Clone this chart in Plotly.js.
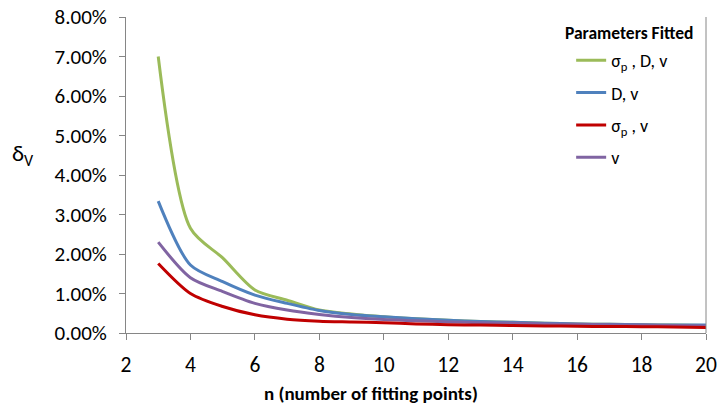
<!DOCTYPE html>
<html><head><meta charset="utf-8">
<script src="https://cdn.plot.ly/plotly-3.0.1.min.js"></script>
<style>body{margin:0;padding:0;background:#fff}#c{width:718px;height:407px}</style>
</head><body><div id="c"></div>
<script>
const n = [3,4,5,6,7,8,9,10,11,12,13,14,15,16,17,18,19,20];
const sigmaDV = [7.00,2.65,1.90,1.09,0.83,0.58,0.48,0.41,0.36,0.32,0.29,0.27,0.25,0.23,0.22,0.21,0.20,0.19];
const DV      = [3.34,1.72,1.30,0.96,0.75,0.57,0.47,0.41,0.36,0.32,0.29,0.27,0.25,0.23,0.22,0.21,0.20,0.20];
const sigmaV  = [1.76,1.00,0.67,0.46,0.35,0.30,0.28,0.26,0.23,0.21,0.20,0.19,0.18,0.17,0.165,0.16,0.15,0.14];
const V       = [2.30,1.40,1.05,0.75,0.58,0.47,0.39,0.34,0.31,0.28,0.26,0.25,0.23,0.22,0.21,0.20,0.19,0.18];
const names = ['σ<sub>p</sub> , D, v','D, v','σ<sub>p</sub> , v','v'];
const colors = ['#9bbb59','#4f81bd','#c00000','#8064a2'];
const series = [sigmaDV, DV, sigmaV, V];
const yTicks = [0,1,2,3,4,5,6,7,8];
const xTicks = [2,4,6,8,10,12,14,16,18,20];
const legendTitle = 'Parameters Fitted';
const xTitle = 'n (number of fitting points)';
const yTitle = 'δ<sub>V</sub>';

const traces = series.map((s,i)=>({
  x: n, y: s.map(v=>v/100), name: names[i], type:'scatter', mode:'lines',
  line:{color:colors[i], width:3, shape:'spline', smoothing:0.8},
  legendgroup:'g'+i, legendrank:i
}));
const order = [0,1,3,2];
const data = order.map(i=>traces[i]);

const FF = 'Carlito, Lato, "Open Sans", sans-serif';
const layout = {
  width:718, height:407,
  margin:{l:126, r:12, t:17, b:74},
  paper_bgcolor:'#fff', plot_bgcolor:'#fff',
  font:{family:FF, color:'#000'},
  showlegend:true,
  legend:{
    x:0.7675, y:0.921, xanchor:'left', yanchor:'top',
    bgcolor:'rgba(0,0,0,0)',
    font:{size:18}, tracegroupgap:6, itemwidth:30
  },
  xaxis:{
    range:[2,20], tickvals:xTicks, ticktext:xTicks.map(String),
    showgrid:false, zeroline:false, showline:true, linecolor:'#868686', linewidth:1,
    ticks:'outside', ticklen:6, tickcolor:'#868686',
    tickfont:{size:21.5}, ticklabelstandoff:6
  },
  yaxis:{
    range:[0,0.08], tickvals:yTicks.map(v=>v/100), ticktext:yTicks.map(v=>v.toFixed(2)+'%'),
    showgrid:false, zeroline:false, showline:true, linecolor:'#868686', linewidth:1,
    ticks:'outside', ticklen:6, tickcolor:'#868686',
    tickfont:{size:21}, ticklabelstandoff:8
  },
  shapes:[{type:'line', xref:'paper', yref:'paper', x0:1, x1:1, y0:0, y1:1, line:{color:'#868686', width:1}}],
  annotations:[
    {text:yTitle, xref:'paper', yref:'paper', x:-0.178, y:0.564, showarrow:false,
     font:{size:23}, xanchor:'center', yanchor:'middle'},
    {text:'<b>'+xTitle+'</b>', xref:'paper', yref:'paper', x:0.4224, y:-0.193, showarrow:false,
     font:{size:19}, xanchor:'center', yanchor:'middle'},
    {text:'<b>'+legendTitle+'</b>', xref:'paper', yref:'paper', x:(563-126)/580, y:(333-33)/316, showarrow:false,
     font:{size:17.5}, xanchor:'left', yanchor:'middle'}
  ]
};
Plotly.newPlot('c', data, layout, {displayModeBar:false, staticPlot:true});
</script></body></html>
